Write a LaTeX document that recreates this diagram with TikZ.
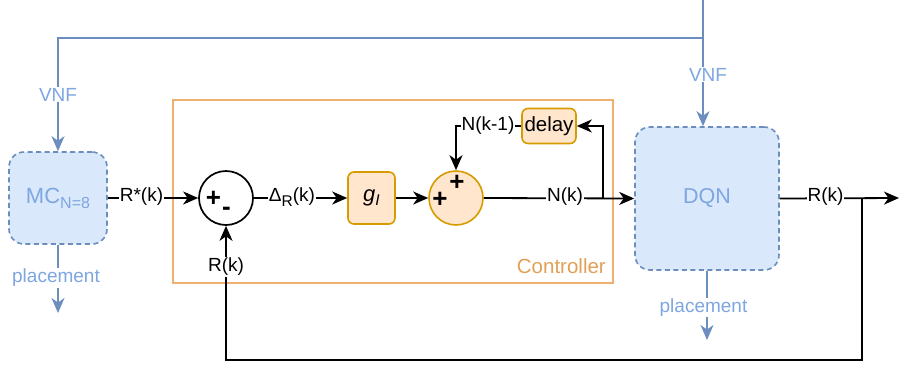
\documentclass[tikz,border=0pt]{standalone}
\usepackage{fontspec}
\setmainfont{Liberation Sans}
\usetikzlibrary{arrows.meta}
\definecolor{bfill}{HTML}{DAE8FC}
\definecolor{bdraw}{HTML}{6C8EBF}
\definecolor{btext}{HTML}{7EA6E0}
\definecolor{ofill}{HTML}{FFE6CC}
\definecolor{odraw}{HTML}{D79B00}
\definecolor{cdraw}{HTML}{EDB06E}
\definecolor{ctext}{HTML}{E0A055}
\tikzset{
  bluebox/.style={draw=bdraw, fill=bfill, dashed, dash pattern=on 5pt off 3.5pt, line width=1.6pt, rounded corners=15pt, text=btext, inner sep=0pt},
  orbox/.style={draw=odraw, fill=ofill, line width=1.6pt, rounded corners=6pt, inner sep=0pt},
  orcirc/.style={draw=odraw, fill=ofill, line width=1.6pt, circle, inner sep=0pt, minimum size=54pt},
  bkcirc/.style={draw=black, fill=white, line width=1.7pt, circle, inner sep=0pt, minimum size=54pt},
  arr/.style={draw=black, line width=1.8pt, -{Stealth[length=15pt,width=13pt,inset=4.5pt]}},
  bline/.style={draw=bdraw, line width=1.6pt},
  barr/.style={draw=bdraw, line width=1.6pt, -{Stealth[length=15pt,width=13pt,inset=4.5pt]}},
  lbl/.style={fill=white, inner sep=1pt, text=black},
  blbl/.style={fill=white, inner sep=1pt, text=btext},
  sign/.style={inner sep=0pt, text=black, font=\fontsize{26}{26}\selectfont\bfseries}
}
\begin{document}
\begin{tikzpicture}[x=1pt,y=-1pt, font=\fontsize{19}{22}\selectfont]
\useasboundingbox (0,0) rectangle (905,365);

% controller frame
\node[draw=cdraw, line width=1.1pt, minimum width=440pt, minimum height=183pt, inner sep=0pt] (ctrl) at (393,191.5) {};
\node[anchor=east, text=ctext, font=\fontsize{20.5}{22}\selectfont, inner sep=0pt] (ctrllbl) at (606,266) {Controller};

% blocks
\node[bluebox, minimum width=98pt, minimum height=92pt] (mc) at (58,198)
  {\fontsize{22}{22}\selectfont MC\raisebox{-5pt}{\fontsize{16}{15}\selectfont N=8}};
\node[bluebox, minimum width=144pt, minimum height=143pt] (dqn) at (707,198.5) {\fontsize{21.5}{22}\selectfont DQN};
\node[bkcirc] (s1) at (226,198) {};
\node[orbox, minimum width=47pt, minimum height=52pt] (gi) at (371.5,198)
  {\fontsize{22}{22}\selectfont\textit{g}\raisebox{-4pt}{\fontsize{15.5}{15}\selectfont\textit{I}}};
\node[orcirc] (s2) at (456,198) {};
\node[orbox, minimum width=54pt, minimum height=35pt] (delay) at (549,126) {\fontsize{20.5}{22}\selectfont delay};

% signs
\node[sign] (s1p) at (213.5,199) {+};
\node[sign] (s1m) at (226.5,211.5) {-};
\node[sign] (s2p) at (440,199.5) {+};
\node[sign] (s2t) at (457,183) {+};

% coordinates
\coordinate (j1) at (603,198);
\coordinate (j2) at (862,198);
\coordinate (out) at (899,198);
\coordinate (fb) at (226,360);
\coordinate (top) at (703,0);
\coordinate (vj) at (703,38);
\coordinate (p1) at (58,313);
\coordinate (p2) at (707,340);

% main path
\draw[arr] (mc.east) -- (s1.west);
\node[lbl] (rstar) at (141.5,197) {R*(k)};
\draw[arr] (s1.east) -- (gi.west);
\node[lbl] (dlt) at (292,197) {Δ\raisebox{-5pt}{\fontsize{15.5}{15}\selectfont R}(k)};
\draw[arr] (gi.east) -- (s2.west);
\draw[arr] (s2.east) -- (dqn.west);
\node[lbl] (nk) at (565,197) {N(k)};
\draw[arr] (j1) |- (delay.east);
\draw[arr] (delay.west) -| (s2.north);
\node[lbl] (nk1) at (488,126) {N(k-1)};
\draw[arr] (dqn.east) -- (out);
\node[lbl] (rk1) at (825.5,197) {R(k)};
\draw[arr] (j2) |- (fb) -- (s1.south);
\node[lbl] (rk2) at (226,267) {R(k)};

% VNF
\draw[bline] (top) -- (vj);
\draw[barr] (vj) -- (vj |- dqn.north);
\node[blbl] (vnf2) at (708,74.5) {VNF};
\draw[barr] (vj) -| (mc.north);
\node[blbl] (vnf1) at (58,94.5) {VNF};

% placement
\draw[barr] (mc.south) -- (p1);
\node[blbl] (pl1) at (56,278) {placement};
\draw[barr] (dqn.south) -- (p2);
\node[blbl] (pl2) at (703.5,307.5) {placement};
\end{tikzpicture}
\end{document}
